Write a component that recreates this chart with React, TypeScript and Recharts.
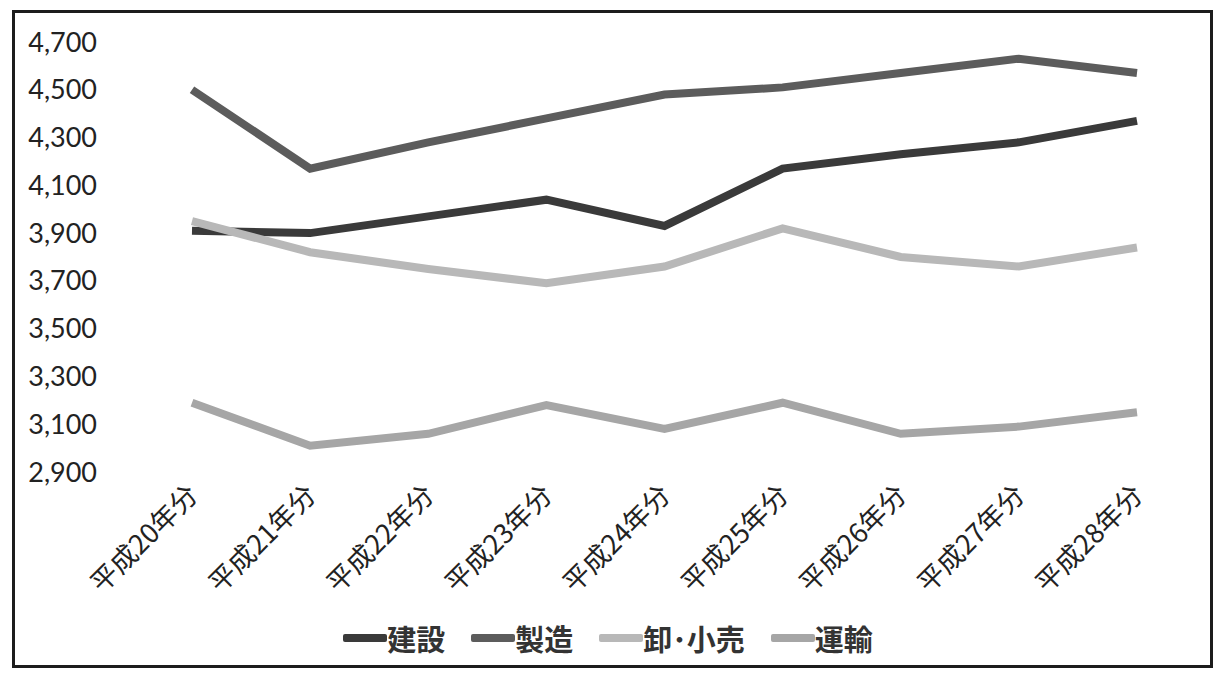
import React from 'react';
import { LineChart, Line, XAxis, YAxis, Legend } from 'recharts';

const years = ['平成20年分', '平成21年分', '平成22年分', '平成23年分', '平成24年分', '平成25年分', '平成26年分', '平成27年分', '平成28年分'];
const kensetsu = [3910, 3900, 3970, 4040, 3930, 4170, 4230, 4280, 4370];
const seizo = [4500, 4170, 4280, 4380, 4480, 4510, 4570, 4630, 4570];
const oroshiKouri = [3950, 3820, 3750, 3690, 3760, 3920, 3800, 3760, 3840];
const unyu = [3190, 3010, 3060, 3180, 3080, 3190, 3060, 3090, 3150];
const yTicks = [2900, 3100, 3300, 3500, 3700, 3900, 4100, 4300, 4500, 4700];

const series = [
  { key: '建設', color: '#3a3a3a' },
  { key: '製造', color: '#5c5c5c' },
  { key: '卸･小売', color: '#b8b8b8' },
  { key: '運輸', color: '#a6a6a6' },
];

const data = years.map((year, i) => ({
  year,
  建設: kensetsu[i],
  製造: seizo[i],
  '卸･小売': oroshiKouri[i],
  運輸: unyu[i],
}));

const cjk = '"Noto Sans CJK JP", "Noto Sans", sans-serif';

const YearTick = (props: any) => {
  const { x, y, payload } = props;
  return (
    <g transform={`translate(${x + 1},${y + 10})`}>
      <text
        transform="rotate(-45)"
        textAnchor="end"
        dy="0.35em"
        fontFamily={cjk}
        fontSize={27}
        fill="#222"
      >
        {payload.value}
      </text>
    </g>
  );
};

const LegendRow = () => (
  <div style={{ display: 'flex', justifyContent: 'center', gap: 26, fontFamily: cjk }}>
    {series.map((s) => (
      <div key={s.key} style={{ display: 'flex', alignItems: 'center' }}>
        <div style={{ width: 44, height: 8, background: s.color, borderRadius: 2 }} />
        <span style={{ fontSize: 29, fontWeight: 700, color: '#333', lineHeight: '32px' }}>{s.key}</span>
      </div>
    ))}
  </div>
);

export default function App() {
  return (
    <div style={{ position: 'absolute', left: 0, top: 0, width: 1216, height: 673, background: '#fff' }}>
      <div
        style={{
          position: 'absolute',
          left: 12,
          top: 10,
          width: 1201,
          height: 658,
          border: '3px solid #1c1c1c',
          boxSizing: 'border-box',
        }}
      />
      <LineChart width={1216} height={673} data={data} margin={{ top: 42, right: 79, bottom: 139, left: 0 }}>
        <XAxis dataKey="year" height={30} axisLine={false} tickLine={false} interval={0} tick={<YearTick />} padding={{ left: 0, right: 0 }} />
        <YAxis
          width={192}
          domain={[2900, 4700]}
          ticks={yTicks}
          axisLine={false}
          tickLine={false}
          tickMargin={89}
          tickFormatter={(v: number) => v.toLocaleString('en-US')}
          tick={{ fontFamily: 'Lato, "Open Sans", sans-serif', fontSize: 27, fill: '#222' }}
        />
        <Legend content={<LegendRow />} wrapperStyle={{ position: 'absolute', left: 0, top: 622, width: 1216 }} />
        {series.map((s) => (
          <Line
            key={s.key}
            type="linear"
            dataKey={s.key}
            stroke={s.color}
            strokeWidth={8}
            dot={false}
            activeDot={false}
            isAnimationActive={false}
          />
        ))}
      </LineChart>
    </div>
  );
}
